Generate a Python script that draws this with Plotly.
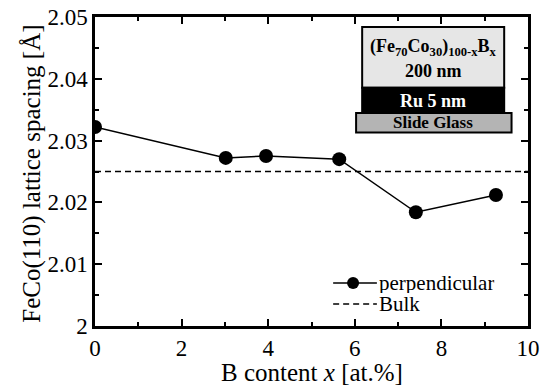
import plotly.graph_objects as go

# B content x [at.%] and FeCo(110) lattice spacing [Å]
b_content = [0.0, 3.02, 3.95, 5.64, 7.41, 9.26]
lattice_perp = [2.0322, 2.0272, 2.0275, 2.0270, 2.0184, 2.0212]
bulk_spacing = 2.025
x_range = [0, 10]
y_range = [2.0, 2.05]
legend_labels = ["perpendicular", "Bulk"]
x_title = "B content <i>x</i> [at.%]"
y_title = "FeCo(110) lattice spacing [Å]"

FONT = "Liberation Serif"
DASH = "6px,4px"

fig = go.Figure()
fig.add_trace(go.Scatter(
    x=b_content, y=lattice_perp, mode="lines+markers", name=legend_labels[0],
    line=dict(color="black", width=1.5),
    marker=dict(color="black", size=14, symbol="circle"),
    showlegend=False,
))
fig.add_trace(go.Scatter(
    x=x_range, y=[bulk_spacing, bulk_spacing], mode="lines", name=legend_labels[1],
    line=dict(color="black", width=1.5, dash=DASH),
    showlegend=False,
))

axis_common = dict(
    showline=True, linecolor="black", linewidth=2.5, mirror="allticks",
    ticks="inside", ticklen=7, tickwidth=1.5, tickcolor="black",
    showgrid=False, zeroline=False, automargin=False,
    tickfont=dict(family=FONT, size=23, color="black"),
)
minor_common = dict(ticks="inside", ticklen=4, tickwidth=1.5, tickcolor="black")

fig.update_xaxes(range=x_range, dtick=2, tick0=0,
                 minor=dict(dtick=1, **minor_common), **axis_common)
fig.update_yaxes(range=y_range, dtick=0.01, tick0=2.0,
                 minor=dict(dtick=0.005, **minor_common), **axis_common)

# Axis titles
annotations = [
    dict(xref="paper", yref="paper", x=0.5, y=-0.150, xanchor="center", yanchor="middle",
         showarrow=False, text=x_title, font=dict(family=FONT, size=25, color="black")),
    dict(xref="paper", yref="paper", x=-0.146, y=0.492, xanchor="center", yanchor="middle",
         showarrow=False, text=y_title, textangle=-90,
         font=dict(family=FONT, size=25, color="black")),
]

# Layer stack sketch of the sample (paper coordinates)
shapes = [
    dict(type="rect", xref="paper", yref="paper", x0=0.617, x1=0.945, y0=0.771, y1=0.968,
         fillcolor="#e6e6e6", line=dict(color="black", width=2)),
    dict(type="rect", xref="paper", yref="paper", x0=0.617, x1=0.945, y0=0.689, y1=0.771,
         fillcolor="black", line=dict(color="black", width=2)),
    dict(type="rect", xref="paper", yref="paper", x0=0.603, x1=0.962, y0=0.626, y1=0.689,
         fillcolor="#b4b4b4", line=dict(color="black", width=2)),
]
annotations += [
    dict(xref="paper", yref="paper", x=0.781, y=0.900, xanchor="center", yanchor="middle",
         showarrow=False,
         text="<b>(Fe<sub>70</sub>Co<sub>30</sub>)<sub>100-x</sub>B<sub>x</sub></b>",
         font=dict(family=FONT, size=18, color="black")),
    dict(xref="paper", yref="paper", x=0.781, y=0.825, xanchor="center", yanchor="middle",
         showarrow=False, text="<b>200 nm</b>", font=dict(family=FONT, size=18, color="black")),
    dict(xref="paper", yref="paper", x=0.781, y=0.729, xanchor="center", yanchor="middle",
         showarrow=False, text="<b>Ru 5 nm</b>", font=dict(family=FONT, size=18, color="white")),
    dict(xref="paper", yref="paper", x=0.781, y=0.657, xanchor="center", yanchor="middle",
         showarrow=False, text="<b>Slide Glass</b>", font=dict(family=FONT, size=17, color="black")),
]

# Legend: symbol on the left, label right after the line
leg_x0, leg_x1, leg_mx, leg_tx = 0.550, 0.651, 0.596, 0.654
leg_rows = [0.139, 0.071]
shapes += [
    dict(type="line", xref="paper", yref="paper", x0=leg_x0, x1=leg_x1,
         y0=leg_rows[0], y1=leg_rows[0], line=dict(color="black", width=1.5)),
    dict(type="circle", xref="paper", yref="paper", xsizemode="pixel", ysizemode="pixel",
         xanchor=leg_mx, yanchor=leg_rows[0], x0=-6, x1=6, y0=-6, y1=6,
         fillcolor="black", line=dict(color="black", width=0)),
    dict(type="line", xref="paper", yref="paper", x0=leg_x0, x1=leg_x1,
         y0=leg_rows[1], y1=leg_rows[1], line=dict(color="black", width=1.5, dash=DASH)),
]
for label, ry in zip(legend_labels, leg_rows):
    annotations.append(dict(xref="paper", yref="paper", x=leg_tx, y=ry,
                            xanchor="left", yanchor="middle", showarrow=False,
                            height=20, valign="middle", borderpad=0,
                            text=label, font=dict(family=FONT, size=21, color="black")))

fig.update_layout(
    width=549, height=389,
    margin=dict(l=95, r=21, t=17, b=63),
    paper_bgcolor="white", plot_bgcolor="white",
    shapes=shapes, annotations=annotations,
    showlegend=False,
    font=dict(family=FONT, color="black"),
)

fig.write_html("out.html")
